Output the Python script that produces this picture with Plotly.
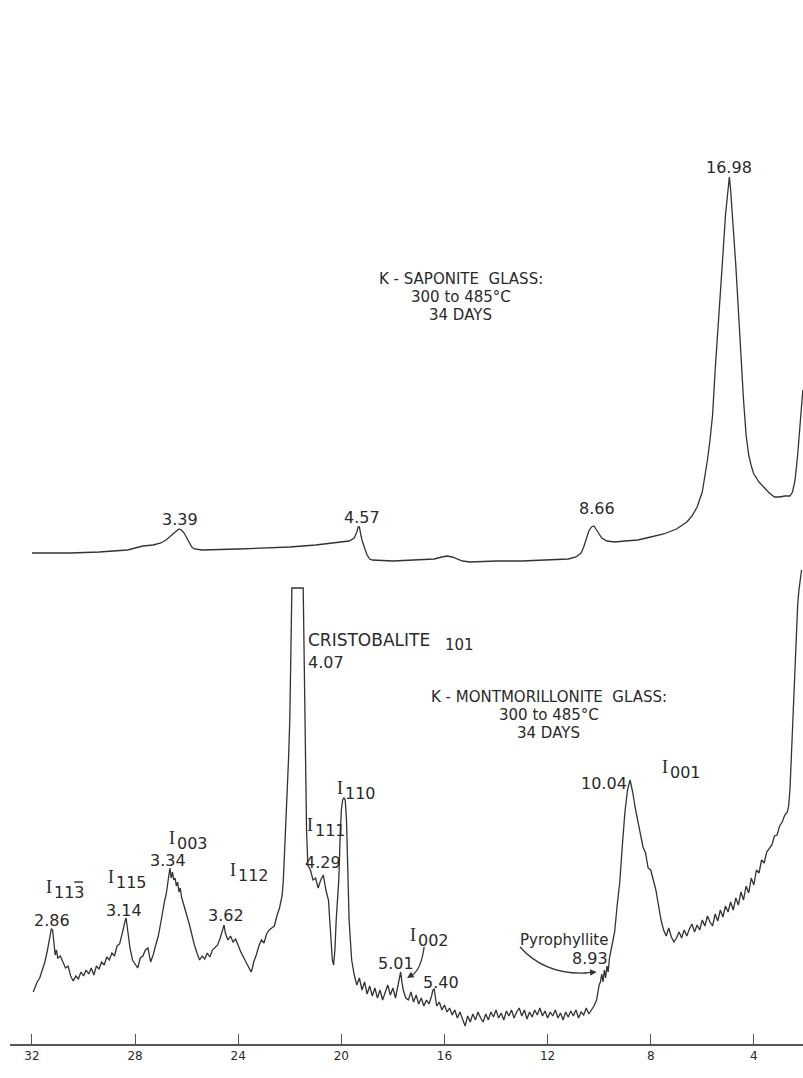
import plotly.graph_objects as go

# ---------------- data (2-theta in degrees, intensity in arbitrary chart units) -------------
# K-saponite glass (upper trace)
sap_theta = [32.0, 30.5, 29.4, 28.8, 28.3, 28.0, 27.7, 27.3, 27.0, 26.8, 26.6, 26.4, 26.3, 26.2,
             26.1, 26.0, 25.9, 25.8, 25.7, 25.4, 24.0, 23.0, 22.0, 21.0, 20.2, 19.7, 19.5, 19.4,
             19.35, 19.3, 19.25, 19.2, 19.1, 19.0, 18.9, 18.8, 18.0, 17.0, 16.4, 16.1, 15.9, 15.7,
             15.5, 15.3, 15.0, 14.0, 13.0, 12.0, 11.2, 10.9, 10.7, 10.6, 10.5, 10.4, 10.3, 10.2,
             10.1, 10.0, 9.9, 9.7, 9.4, 9.0, 8.5, 8.0, 7.5, 7.0, 6.6, 6.4, 6.2, 6.0, 5.9, 5.8,
             5.7, 5.6, 5.5, 5.4, 5.3, 5.2, 5.1, 5.0, 4.95, 4.9, 4.8, 4.7, 4.6, 4.5, 4.4, 4.3,
             4.2, 4.1, 4.0, 3.8, 3.6, 3.4, 3.2, 3.0, 2.8, 2.6, 2.5, 2.4, 2.3, 2.2, 2.1]
sap_int = [491, 491, 492, 493, 494, 496, 498, 499, 501, 504, 509, 513, 515, 514,
           511, 506, 501, 497, 495, 494, 495, 496, 497, 499, 501, 503, 506, 512,
           517, 517, 510, 504, 496, 489, 485, 484, 483, 484, 485, 487, 488, 487,
           485, 483, 482, 483, 483, 484, 485, 487, 491, 497, 506, 513, 517, 518,
           514, 510, 506, 503, 502, 503, 504, 507, 510, 515, 522, 528, 537, 552, 566, 584,
           604, 629, 674, 709, 745, 789, 829, 859, 867, 854, 819, 779, 734, 686, 644, 609,
           589, 578, 570, 562, 556, 551, 547, 547, 548, 548, 552, 564, 589, 624, 654]

# K-montmorillonite glass (lower trace)
mont_theta = [31.95, 31.9, 31.8, 31.7, 31.6, 31.5, 31.4, 31.3, 31.25, 31.2, 31.15, 31.1, 31.05, 31.0,
              30.9, 30.8, 30.7, 30.6, 30.5, 30.4, 30.3, 30.2, 30.1, 30.0, 29.9, 29.8, 29.7, 29.6,
              29.5, 29.4, 29.3, 29.2, 29.1, 29.0, 28.9, 28.8, 28.7, 28.6, 28.5, 28.45, 28.4, 28.35,
              28.3, 28.25, 28.2, 28.1, 28.0, 27.9, 27.8, 27.7, 27.6, 27.5, 27.4, 27.3, 27.2, 27.1,
              27.0, 26.95, 26.9, 26.85, 26.8, 26.75, 26.7, 26.65, 26.6, 26.55, 26.5, 26.45, 26.4,
              26.35, 26.3, 26.25, 26.2, 26.1, 26.0, 25.9, 25.8, 25.7, 25.6, 25.5, 25.4, 25.3, 25.2,
              25.1, 25.0, 24.9, 24.8, 24.7, 24.6, 24.55, 24.5, 24.4, 24.3, 24.2, 24.1, 24.0, 23.9,
              23.8, 23.7, 23.6, 23.5, 23.45, 23.4, 23.3, 23.2, 23.1, 23.0, 22.9, 22.8, 22.7, 22.6,
              22.5, 22.4, 22.3, 22.25, 22.2, 22.15, 22.1, 22.05, 22.0, 21.95, 21.92, 21.48, 21.45,
              21.4, 21.35, 21.3, 21.2, 21.1, 21.0, 20.9, 20.8, 20.7, 20.6, 20.5, 20.4, 20.35, 20.3,
              20.25, 20.2, 20.1, 20.05, 20.0, 19.95, 19.9, 19.85, 19.8, 19.75, 19.7, 19.6, 19.5,
              19.4, 19.3, 19.2, 19.1, 19.0, 18.9, 18.8, 18.7, 18.6, 18.5, 18.4, 18.3, 18.2, 18.1,
              18.0, 17.9, 17.8, 17.75, 17.7, 17.65, 17.6, 17.5, 17.4, 17.3, 17.2, 17.1, 17.0, 16.9,
              16.8, 16.7, 16.6, 16.5, 16.45, 16.4, 16.35, 16.3, 16.2, 16.1, 16.0, 15.9, 15.8, 15.7,
              15.6, 15.5, 15.4, 15.3, 15.2, 15.1, 15.0, 14.9, 14.8, 14.7, 14.6, 14.5, 14.4, 14.3,
              14.2, 14.1, 14.0, 13.9, 13.8, 13.7, 13.6, 13.5, 13.4, 13.3, 13.2, 13.1, 13.0, 12.9,
              12.8, 12.7, 12.6, 12.5, 12.4, 12.3, 12.2, 12.1, 12.0, 11.9, 11.8, 11.7, 11.6, 11.5,
              11.4, 11.3, 11.2, 11.1, 11.0, 10.9, 10.8, 10.7, 10.6, 10.5, 10.4, 10.3, 10.2, 10.1,
              10.05, 10.0, 9.95, 9.9, 9.85, 9.8, 9.75, 9.7, 9.65, 9.6, 9.5, 9.4, 9.3, 9.2, 9.1,
              9.0, 8.9, 8.85, 8.8, 8.75, 8.7, 8.6, 8.5, 8.4, 8.3, 8.2, 8.1, 8.0, 7.9, 7.8, 7.7,
              7.6, 7.5, 7.4, 7.3, 7.2, 7.1, 7.0, 6.9, 6.8, 6.7, 6.6, 6.5, 6.4, 6.3, 6.2, 6.1, 6.0,
              5.9, 5.8, 5.7, 5.6, 5.5, 5.4, 5.3, 5.2, 5.1, 5.0, 4.9, 4.8, 4.7, 4.6, 4.5, 4.4, 4.3,
              4.2, 4.1, 4.0, 3.9, 3.8, 3.7, 3.6, 3.5, 3.4, 3.3, 3.2, 3.1, 3.0, 2.9, 2.8, 2.7, 2.65,
              2.6, 2.55, 2.5, 2.45, 2.4, 2.35, 2.3, 2.25, 2.2, 2.15]
mont_int = [52, 56, 62, 66, 74, 82, 94, 108, 115, 114, 100, 89, 94, 86,
            88, 81, 76, 78, 68, 63, 68, 65, 72, 68, 74, 70, 76, 69,
            78, 75, 82, 79, 87, 84, 91, 88, 98, 100, 109, 116, 122, 126,
            116, 104, 96, 84, 80, 76, 86, 88, 94, 96, 82, 89, 99, 108,
            122, 130, 136, 144, 149, 160, 169, 176, 166, 172, 164, 166, 158,
            162, 152, 156, 147, 139, 129, 120, 109, 99, 91, 84, 88, 85, 91,
            87, 94, 97, 99, 106, 114, 119, 111, 104, 108, 102, 105, 98, 92,
            87, 82, 78, 72, 76, 82, 89, 98, 104, 101, 110, 114, 116, 118,
            128, 136, 148, 164, 194, 219, 254, 284, 324, 404, 456, 456, 394,
            284, 214, 179, 174, 164, 166, 156, 164, 169, 154, 144, 104, 84, 79,
            94, 124, 164, 204, 234, 244, 246, 244, 224, 174, 124, 84, 69,
            59, 66, 54, 62, 50, 58, 48, 56, 46, 54, 44, 52, 59, 49,
            56, 46, 59, 69, 72, 62, 54, 46, 44, 52, 42, 49, 40, 46,
            38, 44, 40, 48, 54, 55, 46, 38, 42, 34, 39, 32, 36, 29,
            34, 26, 32, 24, 18, 28, 22, 30, 24, 32, 26, 22, 30, 24,
            32, 27, 34, 26, 31, 24, 33, 28, 34, 26, 32, 36, 28, 34,
            25, 32, 27, 34, 29, 36, 28, 33, 26, 32, 28, 34, 26, 31,
            24, 32, 27, 33, 28, 34, 26, 32, 29, 36, 30, 34, 38, 44,
            52, 59, 62, 70, 62, 74, 66, 78, 72, 86, 99, 112, 139, 162, 199,
            232, 254, 259, 264, 258, 252, 236, 224, 211, 197, 191, 176, 174, 164, 154, 139,
            124, 114, 108, 116, 107, 102, 106, 112, 106, 114, 108, 115, 120, 112, 119, 114, 124,
            118, 128, 122, 118, 130, 123, 134, 127, 138, 132, 142, 134, 146, 139, 152, 144, 158,
            151, 166, 159, 174, 171, 184, 181, 192, 196, 199, 208, 209, 218, 222, 229, 232, 238,
            254, 284, 319, 354, 384, 414, 439, 454, 466, 474]

tick_vals = [32, 28, 24, 20, 16, 12, 8, 4]
tick_text = ["32", "28", "24", "20", "16", "12", "8", "4"]

# d-spacing peak labels: (text, 2theta, intensity)
sap_labels = [("16.98", 4.96, 877), ("3.39", 26.26, 525), ("4.57", 19.20, 527), ("8.66", 10.08, 536)]
mont_labels = [("2.86", 31.22, 124), ("3.14", 28.43, 134), ("3.34", 26.72, 184), ("3.62", 24.47, 129),
               ("4.29", 20.71, 182), ("5.01", 17.88, 81), ("5.40", 16.13, 62)]
# reflection labels: (hkl, 2theta of "I", intensity of "I")
refl_labels = [("113", 31.34, 157), ("115", 28.94, 167), ("003", 26.57, 206), ("112", 24.20, 174),
               ("111", 21.22, 219), ("110", 20.05, 256), ("002", 17.22, 109), ("001", 7.45, 277)]

LINE = "#333333"
TXT = "#2a2a2a"
FONT = "DejaVu Sans"
NUM = 16

fig = go.Figure()
fig.add_trace(go.Scatter(x=sap_theta, y=sap_int, mode="lines",
                         line=dict(color=LINE, width=1.3), name="K-saponite glass"))
fig.add_trace(go.Scatter(x=mont_theta, y=mont_int, mode="lines",
                         line=dict(color=LINE, width=1.3), name="K-montmorillonite glass"))

ann = []
def txt(t, x, y, size=NUM, xanchor="center", font=FONT):
    ann.append(dict(text=t, x=x, y=y, xref="x", yref="y", showarrow=False,
                    xanchor=xanchor, yanchor="middle", font=dict(family=font, size=size, color=TXT)))

for t, x, y in sap_labels + mont_labels:
    txt(t, x, y)

for hkl, x, y in refl_labels:
    txt("I", x, y, 18, font="Liberation Serif")
    txt(hkl, x - 0.13, y - 5, 16, xanchor="left")

txt("K - SAPONITE  GLASS:", 15.36, 765, 15)
txt("300 to 485°C", 15.36, 747, 15)
txt("34 DAYS", 15.36, 729, 15)

txt("K - MONTMORILLONITE  GLASS:", 11.95, 347, 15)
txt("300 to 485°C", 11.95, 329, 15)
txt("34 DAYS", 11.95, 311, 15)

txt("CRISTOBALITE", 21.37, 404, 17, xanchor="left")
txt("101", 16.06, 399, 15, xanchor="left")
txt("4.07", 21.37, 382, NUM, xanchor="left")

txt("Pyrophyllite", 9.58, 104, 15, xanchor="right")
txt("8.93", 9.58, 86, NUM, xanchor="right")
txt("10.04", 9.81, 261, NUM)
txt("°2θ", 18.23, -26, 15)

# arrowheads
ann.append(dict(x=10.1, y=72, ax=10.6, ay=71, xref="x", yref="y", axref="x", ayref="y",
                text="", showarrow=True, arrowhead=2, arrowsize=1, arrowwidth=1.3, arrowcolor=LINE))
ann.append(dict(x=17.45, y=66, ax=17.2, ay=70, xref="x", yref="y", axref="x", ayref="y",
                text="", showarrow=True, arrowhead=2, arrowsize=1, arrowwidth=1.3, arrowcolor=LINE))

shapes = [
    dict(type="path", xref="x", yref="y", path="M 13.07,97 Q 12.1,69 10.5,71",
         line=dict(color=LINE, width=1.3)),
    dict(type="path", xref="x", yref="y", path="M 16.79,97 Q 16.9,75 17.25,69",
         line=dict(color=LINE, width=1.3)),
    # bar over the last index of the (11-3) reflection label
    dict(type="line", xref="x", yref="y", x0=30.36, x1=30.02, y0=162, y1=162,
         line=dict(color=TXT, width=1.4)),
]

fig.update_layout(
    width=803, height=1078,
    margin=dict(l=10, r=0, t=0, b=34),
    paper_bgcolor="white", plot_bgcolor="white",
    showlegend=False,
    annotations=ann, shapes=shapes,
    xaxis=dict(range=[32.853, 2.093], showline=True, linecolor="#555", linewidth=1.5,
               ticks="inside", ticklen=10, tickwidth=1.2, tickcolor="#555",
               tickvals=tick_vals, ticktext=tick_text, showgrid=False, zeroline=False,
               tickfont=dict(family=FONT, size=12, color=TXT)),
    yaxis=dict(range=[0, 1044], visible=False, showgrid=False, zeroline=False),
)

# remove the default page margin so the 803x1078 figure fills the window exactly
fig.write_html("out.html", config={"displayModeBar": False},
               post_script="document.body.style.margin='0';document.body.style.overflow='hidden';")
